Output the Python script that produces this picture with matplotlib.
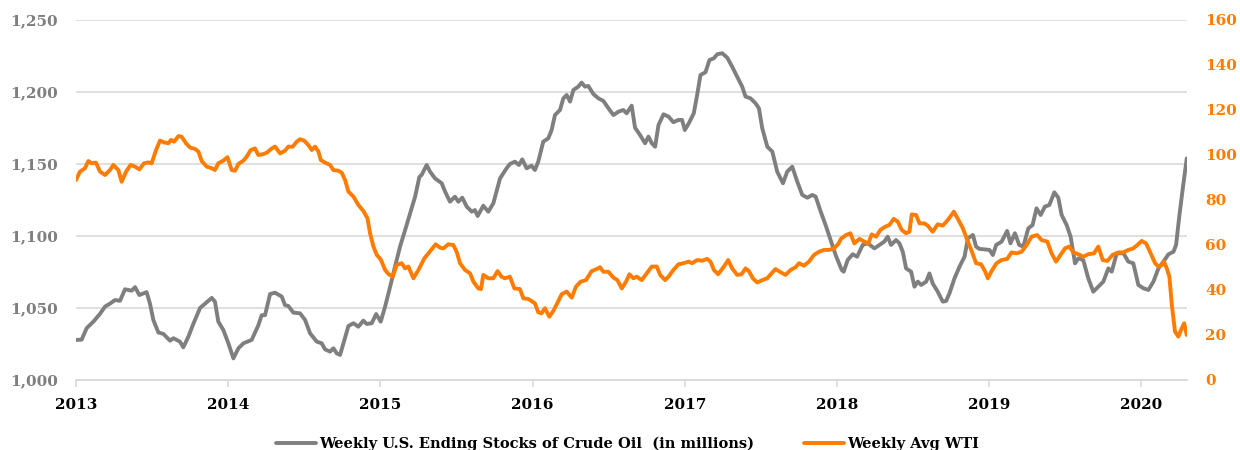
import matplotlib.pyplot as plt
from matplotlib.ticker import FuncFormatter, MultipleLocator

# Weekly U.S. ending stocks of crude oil (millions of barrels), x = decimal year
stock_years = [
    2013.000, 2013.037, 2013.070, 2013.114, 2013.158, 2013.191, 2013.223, 2013.256,
    2013.289, 2013.322, 2013.366, 2013.388, 2013.416, 2013.464, 2013.486, 2013.508,
    2013.541, 2013.574, 2013.618, 2013.640, 2013.683, 2013.705, 2013.738, 2013.771,
    2013.815, 2013.848, 2013.892, 2013.913, 2013.935, 2013.968, 2014.001, 2014.034,
    2014.067, 2014.100, 2014.154, 2014.198, 2014.220, 2014.242, 2014.275, 2014.308,
    2014.352, 2014.373, 2014.395, 2014.428, 2014.472, 2014.505, 2014.538, 2014.582,
    2014.614, 2014.636, 2014.669, 2014.691, 2014.713, 2014.735, 2014.757, 2014.790,
    2014.823, 2014.855, 2014.888, 2014.910, 2014.943, 2014.972, 2015.002, 2015.031,
    2015.064, 2015.096, 2015.129, 2015.162, 2015.195, 2015.228, 2015.256, 2015.271,
    2015.304, 2015.326, 2015.359, 2015.403, 2015.425, 2015.457, 2015.490, 2015.512,
    2015.538, 2015.567, 2015.600, 2015.621, 2015.639, 2015.676, 2015.709, 2015.742,
    2015.786, 2015.829, 2015.851, 2015.884, 2015.910, 2015.932, 2015.961, 2015.993,
    2016.015, 2016.037, 2016.070, 2016.103, 2016.125, 2016.147, 2016.180, 2016.202,
    2016.224, 2016.246, 2016.268, 2016.300, 2016.322, 2016.344, 2016.366, 2016.399,
    2016.432, 2016.465, 2016.498, 2016.531, 2016.564, 2016.596, 2016.618, 2016.651,
    2016.673, 2016.706, 2016.739, 2016.761, 2016.783, 2016.805, 2016.827, 2016.860,
    2016.893, 2016.925, 2016.958, 2016.982, 2017.000, 2017.026, 2017.059, 2017.081,
    2017.103, 2017.136, 2017.162, 2017.191, 2017.213, 2017.246, 2017.279, 2017.311,
    2017.344, 2017.377, 2017.399, 2017.432, 2017.465, 2017.487, 2017.509, 2017.542,
    2017.575, 2017.607, 2017.645, 2017.673, 2017.706, 2017.739, 2017.772, 2017.805,
    2017.838, 2017.860, 2017.893, 2017.925, 2017.958, 2017.991, 2018.031, 2018.044,
    2018.070, 2018.103, 2018.132, 2018.169, 2018.202, 2018.246, 2018.279, 2018.311,
    2018.333, 2018.355, 2018.388, 2018.410, 2018.432, 2018.454, 2018.487, 2018.509,
    2018.531, 2018.553, 2018.586, 2018.607, 2018.629, 2018.662, 2018.695, 2018.717,
    2018.739, 2018.772, 2018.805, 2018.838, 2018.860, 2018.893, 2018.914, 2018.936,
    2018.969, 2019.002, 2019.024, 2019.046, 2019.081, 2019.118, 2019.140, 2019.169,
    2019.197, 2019.224, 2019.257, 2019.285, 2019.311, 2019.338, 2019.366, 2019.395,
    2019.428, 2019.454, 2019.476, 2019.509, 2019.535, 2019.564, 2019.586, 2019.618,
    2019.651, 2019.684, 2019.717, 2019.750, 2019.783, 2019.805, 2019.838, 2019.882,
    2019.914, 2019.947, 2019.980, 2020.013, 2020.046, 2020.079, 2020.112, 2020.145,
    2020.178, 2020.211, 2020.228, 2020.250, 2020.272, 2020.298,
]
stock_values = [
    1027.8, 1028.0, 1036.0, 1040.5, 1046.0, 1051.0, 1053.0, 1055.5,
    1055.0, 1063.0, 1062.0, 1064.5, 1059.0, 1061.0, 1053.0, 1041.7,
    1033.0, 1032.0, 1027.3, 1029.0, 1026.6, 1022.7, 1030.0, 1039.0,
    1050.0, 1053.0, 1057.0, 1054.4, 1040.5, 1034.7, 1025.5, 1015.0,
    1022.0, 1025.5, 1027.8, 1038.0, 1045.0, 1045.0, 1059.7, 1060.6,
    1057.9, 1052.0, 1051.4, 1046.8, 1046.3, 1041.7, 1032.4, 1026.6,
    1025.5, 1021.3, 1019.7, 1022.0, 1018.5, 1017.4, 1025.5, 1037.5,
    1039.4, 1037.0, 1041.2, 1038.9, 1039.4, 1045.8, 1040.5, 1051.0,
    1064.8, 1078.7, 1092.6, 1104.0, 1115.7, 1127.3, 1141.0, 1142.4,
    1149.3, 1144.7, 1140.0, 1136.6, 1130.8, 1123.8, 1127.3, 1123.8,
    1126.6, 1120.4, 1116.9, 1118.0, 1113.9, 1121.0, 1116.9, 1122.7,
    1140.0, 1147.0, 1150.0, 1151.6, 1149.3, 1153.2, 1147.0, 1148.8,
    1145.8, 1151.6, 1165.5, 1167.8, 1173.6, 1184.0, 1187.5, 1195.6,
    1197.9, 1193.3, 1201.4, 1203.7, 1206.5, 1203.7, 1204.2, 1198.6,
    1195.6, 1193.8, 1188.7, 1184.0, 1186.3, 1187.5, 1185.2, 1190.5,
    1175.2, 1170.1, 1164.4, 1169.0, 1164.4, 1162.0, 1177.0, 1184.5,
    1182.9, 1179.0, 1180.6, 1180.6, 1173.6, 1178.2, 1185.2, 1197.9,
    1211.8, 1213.7, 1222.2, 1223.4, 1226.2, 1226.9, 1223.8, 1217.6,
    1210.6, 1203.7, 1196.8, 1195.6, 1192.1, 1188.7, 1174.8, 1162.0,
    1158.6, 1144.7, 1136.6, 1144.7, 1148.1, 1137.7, 1128.5, 1126.6,
    1128.5, 1127.3, 1116.9, 1107.6, 1097.2, 1086.8, 1076.4, 1075.2,
    1083.3, 1087.3, 1085.6, 1093.8, 1094.9, 1091.4, 1093.8, 1096.1,
    1099.5, 1093.8, 1097.2, 1094.9, 1089.1, 1077.5, 1075.2, 1064.8,
    1068.3, 1066.0, 1068.3, 1074.0, 1067.0, 1061.3, 1054.4, 1054.9,
    1060.2, 1070.6, 1078.7, 1085.6, 1098.4, 1100.7, 1092.6, 1091.0,
    1090.7, 1090.3, 1086.8, 1093.8, 1096.0, 1103.5, 1094.9, 1101.9,
    1093.8, 1092.6, 1105.3, 1107.6, 1119.2, 1114.6, 1120.4, 1121.5,
    1130.3, 1126.6, 1114.6, 1107.6, 1099.5, 1081.0, 1084.5, 1083.3,
    1070.6, 1061.3, 1064.8, 1068.3, 1077.5, 1075.2, 1088.0, 1088.0,
    1082.2, 1081.0, 1066.0, 1063.7, 1062.5, 1068.3, 1077.5, 1082.2,
    1087.3, 1089.1, 1093.8, 1114.6, 1133.1, 1153.9,
]

# Weekly average WTI price (USD), x = decimal year
wti_years = [
    2013.000, 2013.026, 2013.059, 2013.081, 2013.103, 2013.131, 2013.158, 2013.191,
    2013.223, 2013.245, 2013.278, 2013.300, 2013.329, 2013.359, 2013.388, 2013.416,
    2013.447, 2013.475, 2013.497, 2013.526, 2013.552, 2013.578, 2013.607, 2013.624,
    2013.644, 2013.673, 2013.694, 2013.723, 2013.749, 2013.782, 2013.804, 2013.826,
    2013.859, 2013.892, 2013.913, 2013.935, 2013.968, 2013.995, 2014.023, 2014.045,
    2014.067, 2014.100, 2014.122, 2014.148, 2014.176, 2014.198, 2014.231, 2014.253,
    2014.286, 2014.308, 2014.341, 2014.373, 2014.395, 2014.424, 2014.450, 2014.472,
    2014.498, 2014.527, 2014.549, 2014.571, 2014.593, 2014.608, 2014.636, 2014.669,
    2014.691, 2014.724, 2014.746, 2014.768, 2014.790, 2014.823, 2014.855, 2014.888,
    2014.915, 2014.932, 2014.954, 2014.976, 2015.002, 2015.031, 2015.053, 2015.081,
    2015.107, 2015.140, 2015.162, 2015.184, 2015.217, 2015.250, 2015.289, 2015.315,
    2015.341, 2015.363, 2015.392, 2015.414, 2015.446, 2015.479, 2015.501, 2015.523,
    2015.556, 2015.589, 2015.611, 2015.643, 2015.661, 2015.676, 2015.709, 2015.742,
    2015.770, 2015.796, 2015.818, 2015.851, 2015.880, 2015.917, 2015.939, 2015.972,
    2016.015, 2016.037, 2016.059, 2016.081, 2016.110, 2016.136, 2016.162, 2016.191,
    2016.224, 2016.257, 2016.285, 2016.316, 2016.351, 2016.388, 2016.421, 2016.443,
    2016.465, 2016.498, 2016.531, 2016.557, 2016.586, 2016.614, 2016.636, 2016.662,
    2016.684, 2016.717, 2016.750, 2016.783, 2016.816, 2016.838, 2016.871, 2016.893,
    2016.925, 2016.958, 2016.991, 2017.026, 2017.048, 2017.081, 2017.114, 2017.147,
    2017.169, 2017.191, 2017.219, 2017.257, 2017.285, 2017.311, 2017.344, 2017.373,
    2017.399, 2017.421, 2017.447, 2017.476, 2017.509, 2017.542, 2017.570, 2017.596,
    2017.629, 2017.662, 2017.695, 2017.728, 2017.750, 2017.783, 2017.816, 2017.849,
    2017.882, 2017.914, 2017.947, 2017.980, 2018.009, 2018.026, 2018.059, 2018.088,
    2018.114, 2018.147, 2018.180, 2018.206, 2018.228, 2018.257, 2018.285, 2018.316,
    2018.344, 2018.373, 2018.399, 2018.425, 2018.454, 2018.476, 2018.491, 2018.520,
    2018.542, 2018.575, 2018.596, 2018.629, 2018.662, 2018.695, 2018.728, 2018.768,
    2018.794, 2018.827, 2018.860, 2018.882, 2018.914, 2018.947, 2018.974, 2018.991,
    2019.013, 2019.048, 2019.081, 2019.118, 2019.147, 2019.180, 2019.213, 2019.246,
    2019.279, 2019.316, 2019.344, 2019.382, 2019.410, 2019.439, 2019.469, 2019.498,
    2019.526, 2019.553, 2019.586, 2019.618, 2019.651, 2019.689, 2019.717, 2019.746,
    2019.776, 2019.811, 2019.849, 2019.882, 2019.914, 2019.947, 2019.974, 2020.002,
    2020.031, 2020.057, 2020.090, 2020.112, 2020.134, 2020.149, 2020.167, 2020.184,
    2020.200, 2020.221, 2020.243, 2020.265, 2020.281, 2020.298,
]
wti_values = [
    88.9, 92.6, 94.1, 97.3, 96.3, 96.6, 92.6, 91.1,
    93.3, 95.6, 93.3, 88.1, 92.6, 95.6, 94.8, 93.6,
    96.3, 96.7, 96.3, 102.2, 106.4, 105.6, 105.2, 106.7,
    105.9, 108.4, 108.1, 105.2, 103.3, 102.7, 101.5, 97.3,
    94.8, 94.1, 93.3, 96.3, 97.5, 99.0, 93.3, 93.0,
    96.0, 97.5, 99.3, 102.2, 102.9, 100.0, 100.4, 101.0,
    102.9, 103.7, 100.7, 101.9, 103.7, 103.7, 105.9, 107.0,
    106.4, 104.4, 102.2, 103.7, 101.5, 97.8, 96.6, 95.6,
    93.3, 93.0, 92.1, 88.9, 83.7, 81.5, 77.8, 75.1,
    71.9, 65.2, 59.3, 55.6, 53.6, 48.9, 47.1, 45.9,
    51.1, 51.9, 49.6, 50.4, 45.2, 48.9, 54.1, 56.3,
    58.5, 60.3, 58.8, 58.5, 60.3, 60.0, 57.0, 51.9,
    48.9, 47.4, 43.7, 40.7, 40.4, 46.7, 45.2, 45.2,
    48.4, 45.9, 45.2, 45.9, 40.7, 40.4, 36.3, 36.0,
    34.1, 30.1, 29.6, 31.9, 28.1, 30.7, 34.1, 38.1,
    39.3, 36.6, 41.5, 43.7, 44.4, 48.4, 49.3, 50.1,
    48.1, 48.1, 45.5, 44.4, 40.7, 43.7, 47.0, 45.2,
    45.9, 44.4, 47.4, 50.4, 50.4, 46.7, 44.4, 45.9,
    48.9, 51.4, 51.9, 52.6, 51.9, 53.3, 53.0, 53.8,
    52.6, 48.9, 47.0, 50.4, 53.3, 49.6, 46.7, 47.0,
    49.6, 48.4, 45.2, 43.3, 44.4, 45.2, 47.4, 49.3,
    47.9, 46.7, 48.9, 50.1, 51.9, 50.8, 52.6, 55.6,
    57.0, 57.8, 57.8, 58.5, 60.5, 62.7, 64.4, 65.2,
    60.7, 62.7, 61.5, 60.7, 64.7, 63.7, 66.7, 68.1,
    68.9, 71.6, 70.4, 66.7, 65.2, 65.9, 73.6, 73.3,
    69.6, 69.6, 68.6, 65.9, 69.2, 68.6, 71.1, 74.8,
    71.6, 67.4, 61.5, 57.8, 51.9, 51.4, 48.1, 45.2,
    48.1, 51.9, 53.3, 53.8, 56.7, 56.3, 57.0, 60.0,
    63.7, 64.4, 62.2, 61.5, 56.3, 52.6, 55.6, 58.5,
    59.3, 56.7, 55.9, 54.8, 55.9, 56.3, 59.3, 53.3,
    52.9, 55.6, 56.7, 56.7, 57.8, 58.5, 60.0, 61.8,
    60.7, 56.9, 51.9, 50.4, 51.1, 52.6, 49.6, 45.9,
    33.3, 21.5, 19.3, 23.0, 25.2, 20.0,
]

year_ticks = [2013, 2014, 2015, 2016, 2017, 2018, 2019, 2020]
legend_labels = ['Weekly U.S. Ending Stocks of Crude Oil  (in millions)', 'Weekly Avg WTI']

GRAY = '#7f7f7f'
ORANGE = '#ff7c00'
GRID = '#d9d9d9'
FONT = 'DejaVu Serif'

plt.rcParams['font.family'] = FONT
plt.rcParams['font.weight'] = 'bold'

fig = plt.figure(figsize=(12.4, 4.5), dpi=100)
ax = fig.add_axes([0.0613, 0.1556, 0.8960, 0.8000])
ax2 = ax.twinx()

l1, = ax.plot(stock_years, stock_values, color=GRAY, lw=2.8,
              solid_joinstyle='round', solid_capstyle='round')
l2, = ax2.plot(wti_years, wti_values, color=ORANGE, lw=2.8,
               solid_joinstyle='round', solid_capstyle='round')

ax.set_xlim(2013, 2020.30)
ax.set_ylim(1000, 1250)
ax2.set_ylim(0, 160)

ax.yaxis.set_major_locator(MultipleLocator(50))
ax.yaxis.set_major_formatter(FuncFormatter(lambda v, p: f'{v:,.0f}'))
ax2.yaxis.set_major_locator(MultipleLocator(20))
ax.set_xticks(year_ticks)
ax.set_xticklabels([str(y) for y in year_ticks])

ax.grid(axis='y', color=GRID, lw=1.2)
ax.set_axisbelow(True)
for a in (ax, ax2):
    for s in ('top', 'left', 'right'):
        a.spines[s].set_visible(False)
    a.spines['bottom'].set_color(GRID)
    a.spines['bottom'].set_linewidth(1.2)

ax.tick_params(axis='x', colors=GRID, length=5, width=1.2, pad=8,
               labelcolor='black', labelsize=11)
ax.tick_params(axis='y', length=0, pad=13, labelcolor=GRAY, labelsize=11)
ax2.tick_params(axis='y', length=0, pad=13, labelcolor=ORANGE, labelsize=11)
for lab in ax.get_xticklabels() + ax.get_yticklabels() + ax2.get_yticklabels():
    lab.set_fontweight('bold')

# pick a legend font size so the long label is about 434 px wide, like the original
renderer = fig.canvas.get_renderer()
probe = fig.text(0, 0, legend_labels[0], fontsize=10, fontweight='bold', family=FONT)
w10 = probe.get_window_extent(renderer).width
probe.remove()
leg_size = 10 * 434 / w10
em = leg_size * 100 / 72

fig.legend([l1, l2], legend_labels,
           loc='center', bbox_to_anchor=(0.506, 0.014), ncol=2, frameon=False,
           handlelength=40 / em, columnspacing=50 / em, handletextpad=3 / em,
           prop={'family': FONT, 'weight': 'bold', 'size': leg_size})

fig.savefig('out.png', dpi=100)
